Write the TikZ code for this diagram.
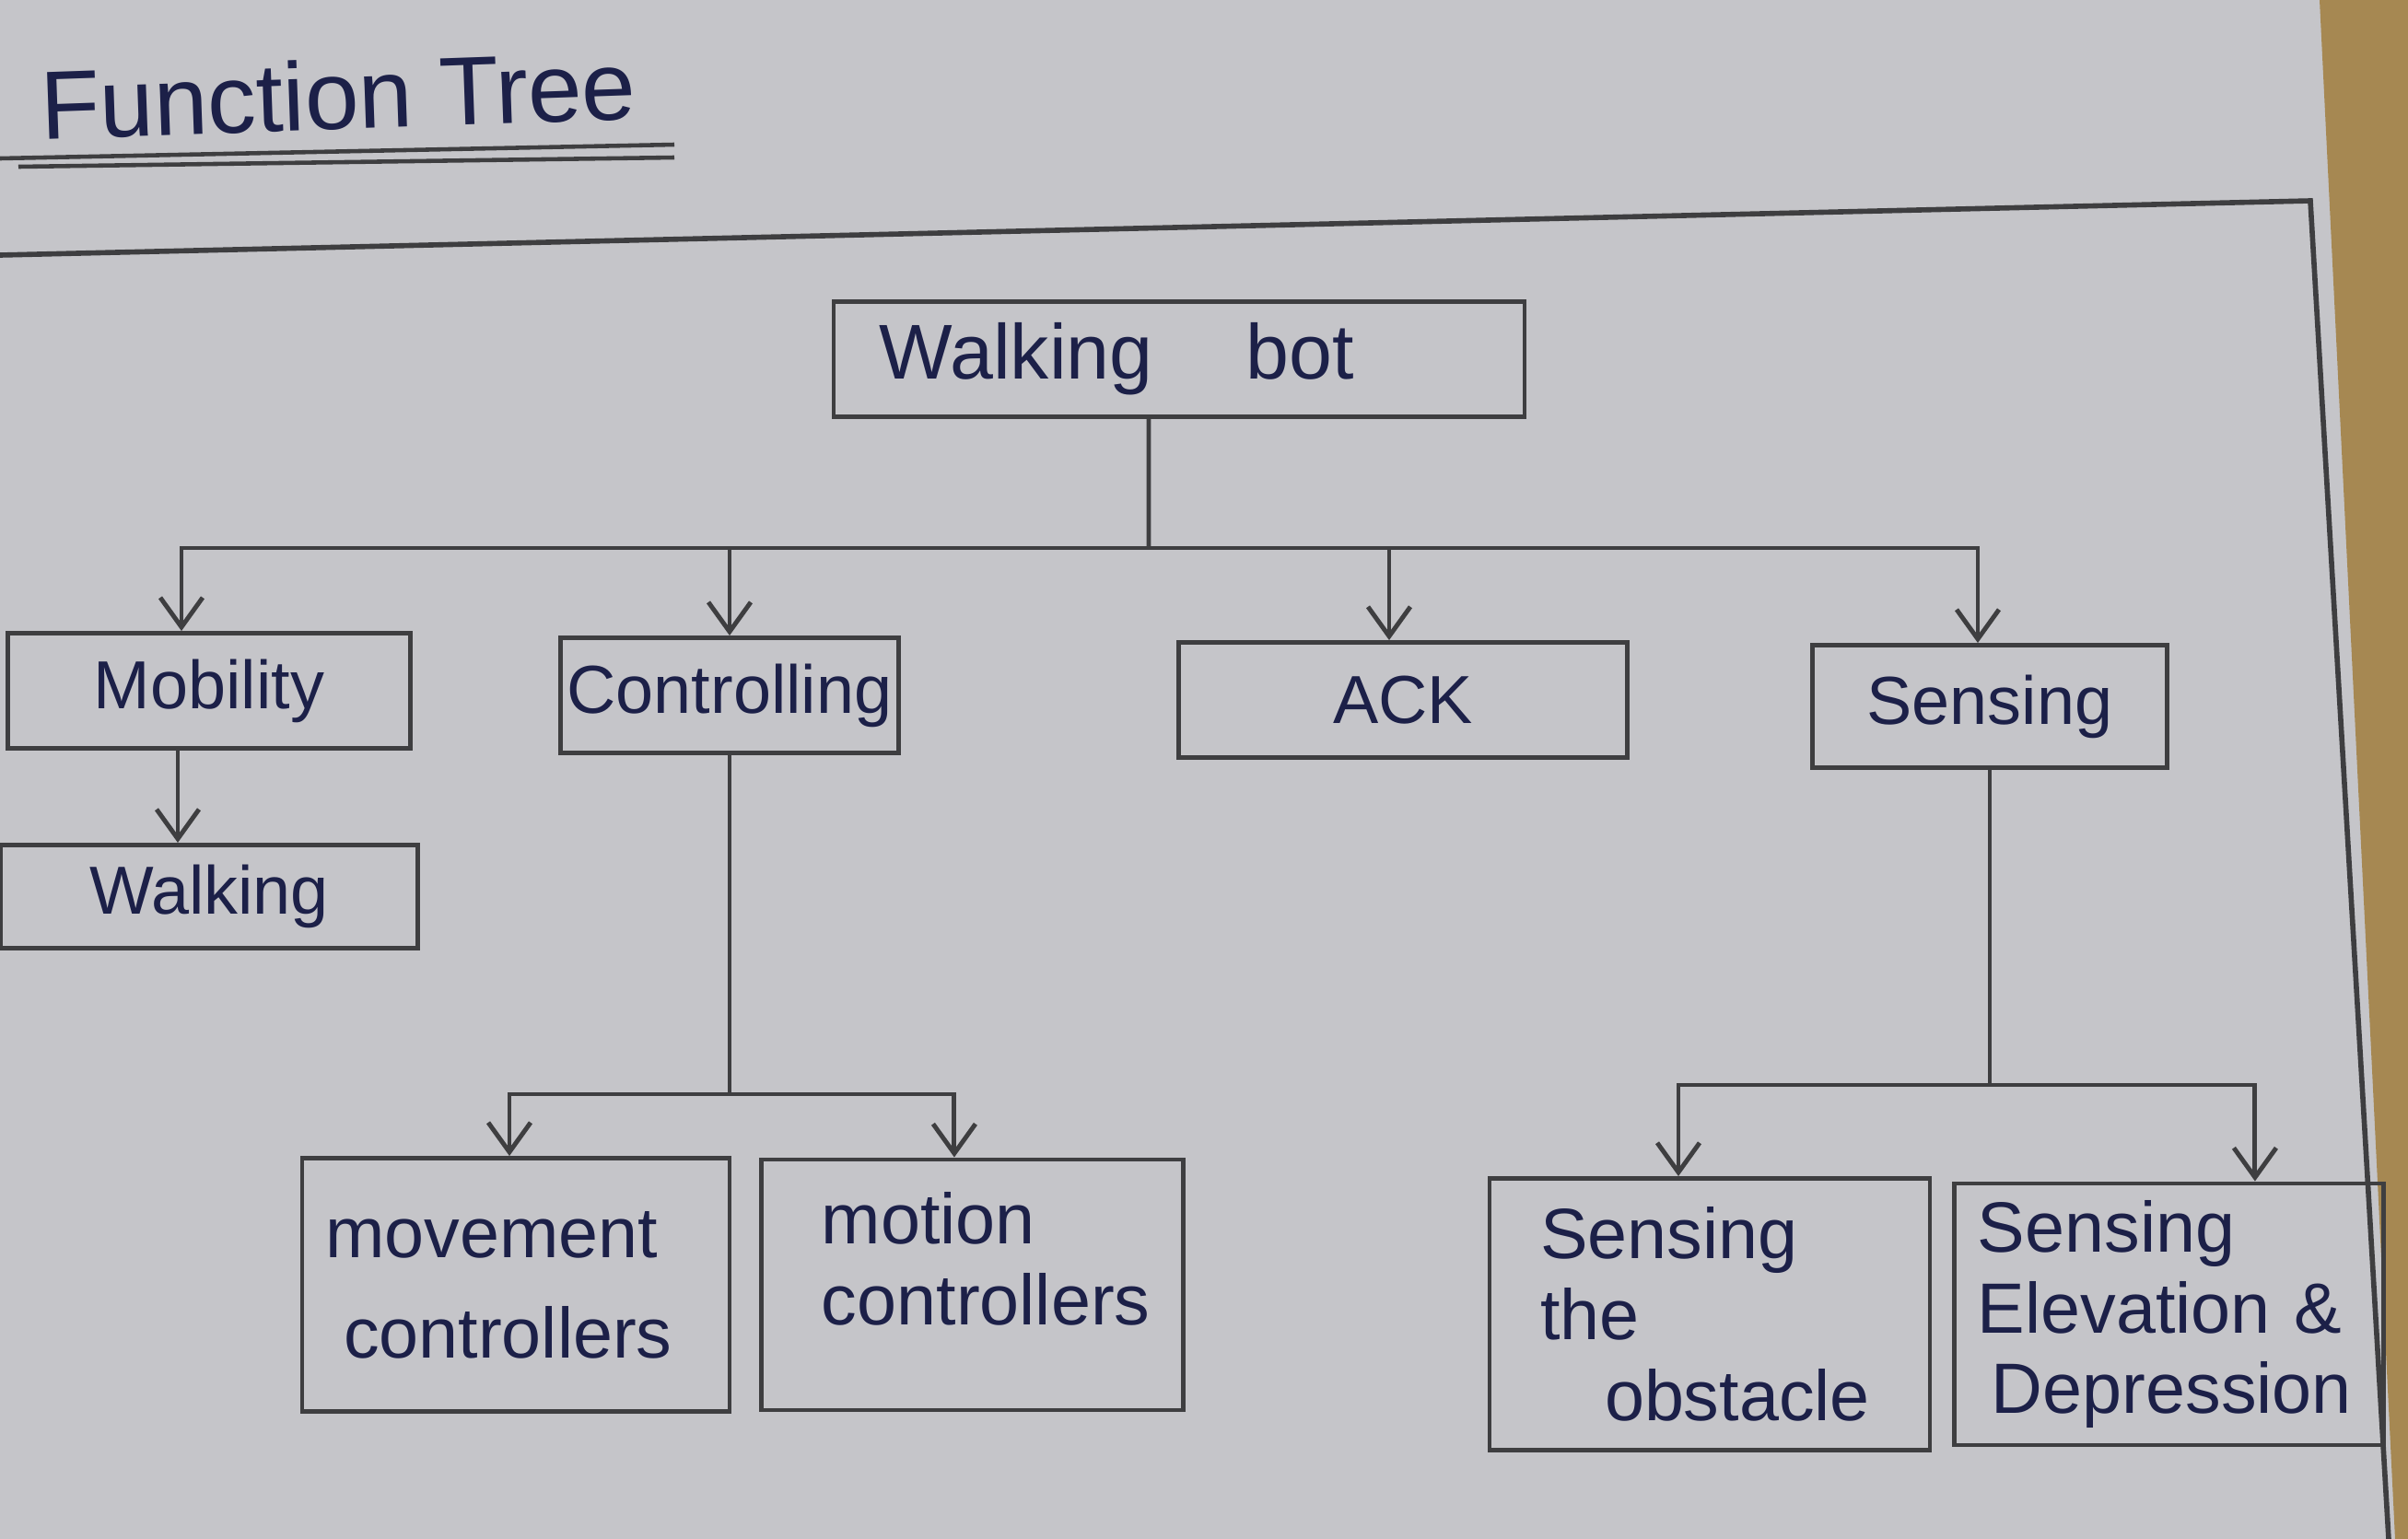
\documentclass[tikz,border=0pt]{standalone}
\usepackage{fontspec}
\setmainfont{Liberation Sans}
\usepackage{xcolor}
\usepackage{tikz}
\usetikzlibrary{arrows.meta,positioning}

\definecolor{paper}{RGB}{197,197,201}
\definecolor{wood}{RGB}{166,136,82}
\definecolor{pencil}{RGB}{62,62,64}
\definecolor{ink}{RGB}{28,32,72}
\newcommand{\nohyph}{\hyphenpenalty=10000\relax\exhyphenpenalty=10000\relax}

\begin{document}
\begin{tikzpicture}[
    >={Straight Barb[length=3.2mm,width=4.6mm]},
    box/.style={rectangle, draw=pencil, line width=1.4pt, minimum height=1.25cm, inner sep=2pt, align=center, text=ink, font=\fontsize{21}{26}\selectfont},
    bigbox/.style={box, align=left, inner xsep=0.25cm, font=\fontsize{22}{25}\selectfont\nohyph},
    link/.style={draw=pencil, line width=1.4pt},
    arrow/.style={link, ->}
]
\useasboundingbox (0,0) rectangle (26.14,-16.71);
\fill[paper] (0,0) rectangle (26.14,-16.71);
\fill[wood] (25.18,0) -- (26.14,0) -- (26.14,-16.71) -- (26.0,-16.71) -- cycle;

% heading and sheet frame
\node[text=ink, font=\fontsize{30}{36}\selectfont, anchor=base west, rotate=2] (title) at (0.33,-1.52) {Function Tree};
\draw[pencil, line width=1.3pt] (0,-1.72) -- (7.32,-1.57);
\draw[pencil, line width=1.3pt] (0.2,-1.81) -- (7.32,-1.71);
\draw[pencil, line width=1.6pt] (0,-2.77) -- (25.08,-2.18) -- (25.93,-16.71);

% tree
\node[box, minimum width=7.5cm, font=\fontsize{24}{28}\selectfont] (bot) at (12.8,-3.9) {Walking\hspace{1.2em}bot\hspace{1.6em}};

\node[box, minimum width=4.37cm] (mob) at (2.27,-7.5) {Mobility};
\node[box, minimum width=3.65cm] (ctl) at (7.92,-7.55) {Controlling};
\node[box, minimum width=4.87cm] (ack) at (15.23,-7.6) {ACK};
\node[box, minimum width=3.85cm, minimum height=1.33cm] (sen) at (21.6,-7.67) {Sensing};

\node[box, minimum width=4.53cm, minimum height=1.12cm, below=1cm of mob] (walk) {Walking};

\node[bigbox, minimum width=4.64cm, text width=4.14cm, minimum height=2.75cm] (mov) at (5.6,-13.95) {movement\\[6pt]\hspace*{2mm}controllers};
\node[bigbox, minimum width=4.58cm, text width=4.08cm, minimum height=2.72cm, right=0.3cm of mov] (mot) {\hspace*{4mm}motion\\\hspace*{4mm}controllers\\[-3mm]\mbox{}};

\node[bigbox, minimum width=4.78cm, text width=4.28cm, minimum height=2.95cm] (obs) at (18.56,-14.27) {\hspace*{3mm}Sensing\\\hspace*{3mm}the\\\hspace*{10mm}obstacle};
\node[bigbox, minimum width=4.66cm, text width=4.16cm, minimum height=2.84cm, right=0.22cm of obs] (elev) {Sensing\\Elevation \&\\\hspace*{1.5mm}Depression};

\coordinate (bus) at (12.47,-5.95);
\coordinate (cbus) at (7.92,-11.88);
\coordinate (sbus) at (21.6,-11.78);

\draw[link] ([xshift=-3.3mm]bot.south) -- (bus);
\draw[arrow] (bus) -| ([xshift=-3mm]mob.north);
\draw[arrow] (bus) -| (ctl.north);
\draw[arrow] (bus) -| ([xshift=-1.5mm]ack.north);
\draw[arrow] (bus) -| ([xshift=-1.3mm]sen.north);

\draw[arrow] ([xshift=-3.4mm]mob.south) -- ([xshift=-3.4mm]walk.north);

\draw[link] (ctl.south) -- (cbus);
\draw[arrow] (cbus) -| ([xshift=-0.7mm]mov.north);
\draw[arrow] (cbus) -| ([xshift=-2mm]mot.north);

\draw[link] (sen.south) -- (sbus);
\draw[arrow] (sbus) -| ([xshift=-3.4mm]obs.north);
\draw[arrow] (sbus) -| ([xshift=9.3mm]elev.north);
\end{tikzpicture}
\end{document}
